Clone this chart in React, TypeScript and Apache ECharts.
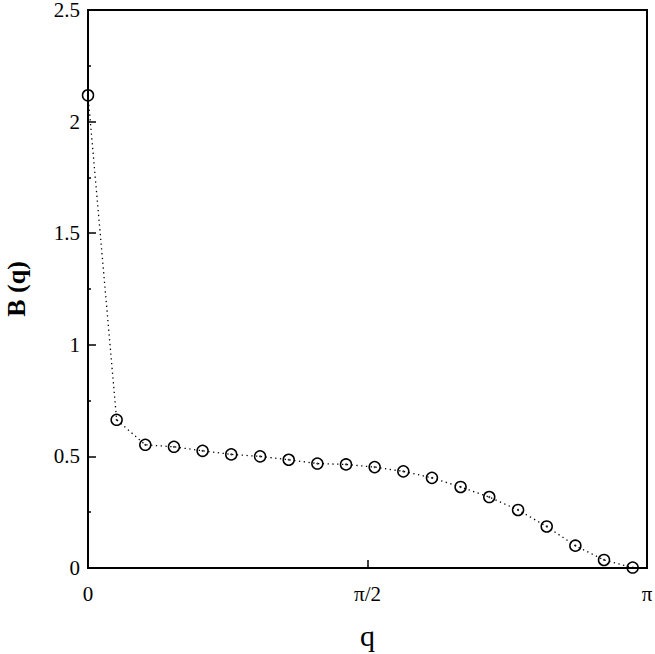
import React, { useEffect, useRef } from "react";
import * as echarts from "echarts";

const qValues = [0, 0.161, 0.322, 0.483, 0.644, 0.805, 0.967, 1.128, 1.289, 1.45, 1.611, 1.772, 1.933, 2.094, 2.255, 2.417, 2.578, 2.739, 2.9, 3.061];
const bValues = [2.118, 0.664, 0.552, 0.543, 0.525, 0.509, 0.5, 0.485, 0.468, 0.464, 0.452, 0.433, 0.404, 0.363, 0.318, 0.26, 0.186, 0.1, 0.036, 0.002];
const yTicks = [0, 0.5, 1, 1.5, 2, 2.5];
const xTickLabels: Record<string, string> = { "0": "0", "1": "π/2", "2": "π" };

const FONT = "Liberation Serif";

export default function App() {
  const ref = useRef<HTMLDivElement>(null);
  useEffect(() => {
    if (!ref.current) return;
    const chart = echarts.init(ref.current, undefined, { renderer: "svg" });
    const pts = qValues.map((q, i) => [q, bValues[i]]);
    chart.setOption({
      animation: false,
      backgroundColor: "#fff",
      textStyle: { fontFamily: FONT },
      grid: {
        left: 88,
        top: 10,
        right: 8,
        bottom: 86,
        outerBoundsMode: "none",
        containLabel: false,
        show: true,
        borderColor: "#000",
        borderWidth: 2,
        backgroundColor: "transparent",
      },
      xAxis: {
        type: "value",
        min: 0,
        max: Math.PI,
        interval: Math.PI / 2,
        name: "q",
        nameLocation: "middle",
        nameGap: 52,
        nameTextStyle: { fontFamily: FONT, fontSize: 30, color: "#000" },
        axisLine: { show: true, lineStyle: { color: "#000", width: 2 } },
        axisTick: { show: true, inside: true, length: 8, lineStyle: { color: "#000", width: 1.5 } },
        splitLine: { show: false },
        axisLabel: {
          fontFamily: FONT,
          fontSize: 21,
          color: "#000",
          margin: 15,
          showMaxLabel: true,
          showMinLabel: true,
          formatter: (v: number) => xTickLabels[String(Math.round(v / (Math.PI / 2)))] ?? "",
        },
      },
      yAxis: {
        type: "value",
        min: yTicks[0],
        max: yTicks[yTicks.length - 1],
        interval: 0.5,
        name: "B (q)",
        nameLocation: "middle",
        nameGap: 59,
        nameTextStyle: { fontFamily: FONT, fontSize: 26, fontWeight: "bold", color: "#000" },
        axisLine: { show: true, lineStyle: { color: "#000", width: 2 } },
        axisTick: { show: true, inside: true, length: 8, lineStyle: { color: "#000", width: 1.5 } },
        minorTick: { show: true, splitNumber: 2, length: 3, lineStyle: { color: "#000", width: 1.5 } },
        splitLine: { show: false },
        axisLabel: {
          fontFamily: FONT,
          fontSize: 21,
          lineHeight: 17,
          padding: [3, 0, 0, 0],
          color: "#000",
          margin: 8,
          formatter: (v: number) => String(v),
        },
      },
      series: [
        {
          type: "line",
          data: pts,
          symbol: "circle",
          symbolSize: 11,
          itemStyle: { color: "rgba(0,0,0,0)", borderColor: "#000", borderWidth: 1.5 },
          lineStyle: { color: "#000", width: 1.3, type: [1.3, 3.5] },
          z: 3,
        },
        {
          type: "scatter",
          data: pts,
          symbol: "circle",
          symbolSize: 2,
          itemStyle: { color: "#000" },
          z: 4,
          silent: true,
        },
      ],
    });
    return () => chart.dispose();
  }, []);
  return (
    <div
      ref={ref}
      style={{ position: "fixed", left: 0, top: 0, width: 655, height: 654, background: "#fff" }}
    />
  );
}
